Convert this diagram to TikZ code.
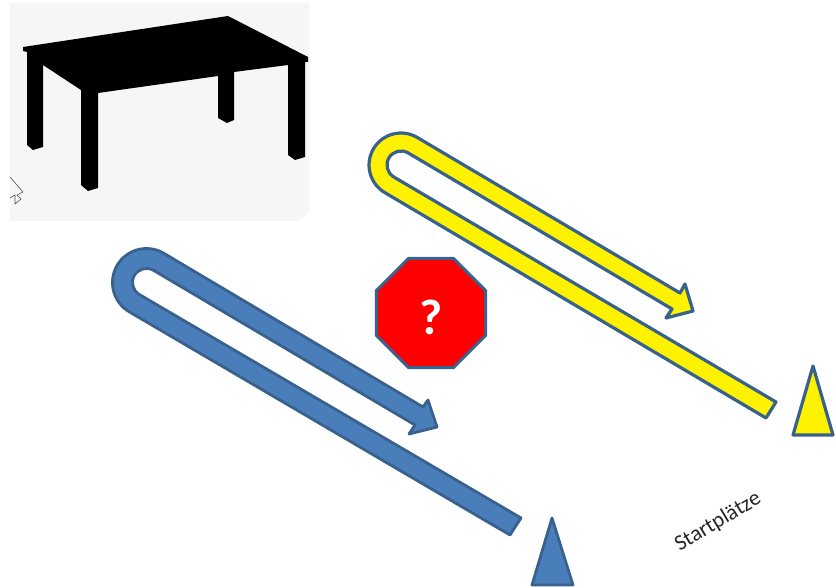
\documentclass[tikz,border=0pt]{standalone}
\usepackage{fontspec}
\setmainfont{Carlito}
\usetikzlibrary{shapes.geometric}
\definecolor{edgeblue}{HTML}{38618E}
\definecolor{fillblue}{HTML}{4A7EBB}
\definecolor{tablebg}{HTML}{F6F6F6}
\tikzset{
  bluepart/.style={draw=edgeblue,fill=fillblue,line width=2.8pt,line join=round},
  yellowpart/.style={draw=edgeblue,fill=yellow,line width=3.2pt,line join=round},
  stopsign/.style={regular polygon,regular polygon sides=8,
    minimum size=118pt,inner sep=0pt,outer sep=0pt,draw=edgeblue,fill=red,line width=3pt,
    text=white,text height=43pt,text depth=0pt,font=\fontsize{50}{54}\bfseries\selectfont},
  startlabel/.style={rotate=31,font=\fontsize{22}{24}\selectfont,text=black!85}
}
\begin{document}
\begin{tikzpicture}[x=1pt,y=1pt]
\useasboundingbox (0,0) rectangle (836,587);
% table picture
\fill[tablebg] (10,584) -- (309,584) -- (309,381) arc[start angle=0,end angle=-90,radius=15] -- (10,366) -- cycle;
\fill[black] (23,540) -- (228,571) -- (308,530) -- (308,525) -- (305,525) -- (305,430) -- (295,427)
  -- (288,432) -- (288,522) -- (234,515) -- (234,467) -- (227,464) -- (218,469) -- (218,511)
  -- (98,494) -- (98,399) -- (88,396) -- (81,402) -- (81,497) -- (43,522) -- (43,440) -- (33,437)
  -- (27,442) -- (27,535) -- (23,536) -- cycle;
\draw[black!70,line width=.6pt,line join=round] (10,410) -- (23,395) -- (17,392) -- (21,388)
  -- (15,383) -- (15,392) -- (10,389);
% yellow track
\draw[yellowpart] (766,169) -- (384.8,394.4) arc[start angle=239.5,delta angle=-180,radius=32]
  -- (680,294) -- (685,303) -- (693,276) -- (666,269) -- (672,278)
  -- (408.1,434.1) arc[start angle=59.5,delta angle=180,radius=14] -- (776,185) -- cycle;
\draw[yellowpart] (813,221) -- (833,152) -- (793,152) -- cycle;
% blue track
\draw[bluepart] (510,52) -- (129.2,275.2) arc[start angle=239.5,delta angle=-180,radius=34]
  -- (423,180) -- (428,187) -- (437,160) -- (409,153) -- (415,162)
  -- (153.6,316.6) arc[start angle=59.5,delta angle=180,radius=14] -- (521,69) -- cycle;
\draw[bluepart] (552,69) -- (573,2) -- (532,2) -- cycle;
% stop sign and label
\node[stopsign] (stop) at (431,274) {?};
\node[startlabel] (start) at (718,65) {Startplätze};
\end{tikzpicture}
\end{document}
